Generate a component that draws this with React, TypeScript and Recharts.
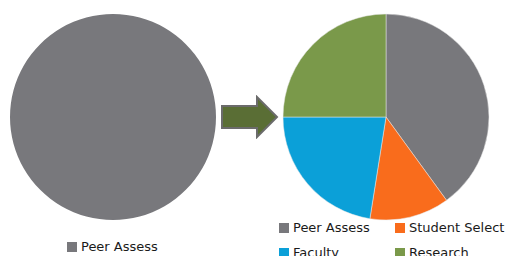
import { Legend, Pie, PieChart } from "recharts";

const beforeNames = ["Peer Assess"];
const beforeValues = [100];
const afterNames = ["Peer Assess", "Student Select", "Faculty", "Research"];
const afterValues = [40, 12.5, 22.5, 25];
const sliceColors = ["#78787c", "#f96c1c", "#0ba0d8", "#7a994a"];

const beforeData = beforeNames.map((name, i) => ({ name, value: beforeValues[i], fill: sliceColors[i] }));
const afterData = afterNames.map((name, i) => ({ name, value: afterValues[i], fill: sliceColors[i] }));

const FONT = "'DejaVu Sans', sans-serif";
const NO_MARGIN = { top: 0, right: 0, bottom: 0, left: 0 };

type Item = { value?: string; color?: string };

// keep legend in data order (recharts sorts by name otherwise)
function SquareLegend({ payload, columns, order }: { payload?: Item[]; columns: number; order: string[] }) {
  const items = [...(payload ?? [])].sort((a, b) => order.indexOf(a.value ?? "") - order.indexOf(b.value ?? ""));
  return (
    <div
      style={{
        display: "grid",
        gridTemplateColumns: `repeat(${columns}, 116px)`,
        rowGap: 9,
        fontFamily: FONT,
        fontSize: 13,
        color: "#1a1a1a",
        lineHeight: "16px",
      }}
    >
      {items.map((p) => (
        <div key={p.value} style={{ display: "flex", alignItems: "center", whiteSpace: "nowrap" }}>
          <span style={{ width: 10, height: 10, background: p.color, marginRight: 4, display: "inline-block" }} />
          {p.value}
        </div>
      ))}
    </div>
  );
}

export default function App() {
  return (
    <div style={{ position: "absolute", left: 0, top: 0, width: 508, height: 256, background: "#fff", overflow: "hidden" }}>
      <div style={{ position: "absolute", left: 0, top: 0 }}>
        <PieChart width={230} height={256} margin={NO_MARGIN}>
          <Pie
            data={beforeData}
            dataKey="value"
            nameKey="name"
            cx={113}
            cy={117}
            outerRadius={103}
            startAngle={90}
            endAngle={-270}
            stroke="none"
            isAnimationActive={false}
          />
          <Legend
            content={(props: any) => <SquareLegend payload={props.payload} columns={1} order={beforeNames} />}
            wrapperStyle={{ left: 67, top: 239, width: 140, bottom: "auto" }}
          />
        </PieChart>
      </div>

      <svg style={{ position: "absolute", left: 220, top: 95 }} width={60} height={44}>
        <polygon
          points="2,11 37,11 37,2 57,22 37,42 37,33 2,33"
          fill="#5a6e35"
          stroke="#6b6b6b"
          strokeWidth={2}
        />
      </svg>

      <div style={{ position: "absolute", left: 270, top: 0 }}>
        <PieChart width={238} height={256} margin={NO_MARGIN}>
          <Pie
            data={afterData}
            dataKey="value"
            nameKey="name"
            cx={116}
            cy={117}
            outerRadius={103}
            startAngle={90}
            endAngle={-270}
            stroke="#e8e8e8"
            strokeWidth={0.5}
            isAnimationActive={false}
          />
          <Legend
            content={(props: any) => <SquareLegend payload={props.payload} columns={2} order={afterNames} />}
            wrapperStyle={{ left: 9, top: 220, width: 240, bottom: "auto" }}
          />
        </PieChart>
      </div>
    </div>
  );
}
